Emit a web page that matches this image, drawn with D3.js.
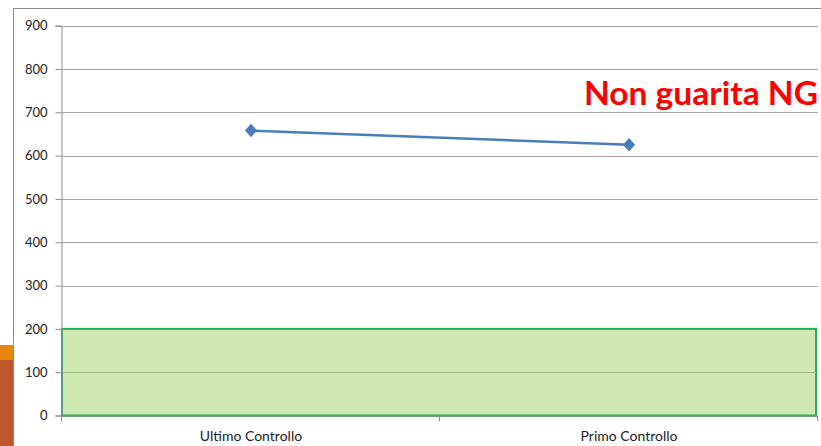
<!DOCTYPE html>
<html>
<head>
<meta charset="utf-8">
<script src="https://cdn.jsdelivr.net/npm/d3@7"></script>
<style>
  body { margin: 0; background: #fff; }
  svg { display: block; }
</style>
</head>
<body>
<script>
const categories = ['Ultimo Controllo', 'Primo Controllo'];
const values = [658, 625];
const yTicks = [0, 100, 200, 300, 400, 500, 600, 700, 800, 900];
const bandRange = [0, 200];
const title = 'Non guarita NG';

const width = 821;
const height = 446;
const plot = { left: 62, right: 818, top: 25.7, bottom: 415.5 };

const svg = d3.select('body')
  .append('svg')
  .attr('width', width)
  .attr('height', height);

// slide decoration on the left edge
svg.append('rect').attr('x', 0).attr('y', 345).attr('width', 13).attr('height', 15).attr('fill', '#e8850f');
svg.append('rect').attr('x', 0).attr('y', 360).attr('width', 13).attr('height', 90).attr('fill', '#c0562b');

// chart frame
svg.append('rect')
  .attr('x', 13.5).attr('y', 8.5)
  .attr('width', 850).attr('height', 480)
  .attr('fill', '#fff')
  .attr('stroke', '#8c8c8c');

const xScale = d3.scaleBand()
  .domain(categories)
  .range([plot.left, plot.right]);

const yScale = d3.scaleLinear()
  .domain([0, 900])
  .range([plot.bottom, plot.top]);

// gridlines
svg.append('g')
  .selectAll('line')
  .data(yTicks)
  .enter()
  .append('line')
  .attr('x1', plot.left)
  .attr('x2', plot.right)
  .attr('y1', (d) => Math.round(yScale(d)) + 0.5)
  .attr('y2', (d) => Math.round(yScale(d)) + 0.5)
  .attr('stroke', '#a6a6a6')
  .attr('stroke-width', 1);

// target band
svg.append('rect')
  .attr('x', plot.left)
  .attr('y', yScale(bandRange[1]))
  .attr('width', plot.right - plot.left - 2)
  .attr('height', yScale(bandRange[0]) - yScale(bandRange[1]))
  .attr('fill', '#d0e9b3')
  .attr('stroke', '#1fb155')
  .attr('stroke-width', 2);

// band gridline shows through
svg.append('line')
  .attr('x1', plot.left).attr('x2', plot.right - 2)
  .attr('y1', Math.round(yScale(100)) + 0.5).attr('y2', Math.round(yScale(100)) + 0.5)
  .attr('stroke', '#9cb98a');

// y axis
const yAxis = d3.axisLeft(yScale).tickValues(yTicks).tickSize(6).tickPadding(8);
const yG = svg.append('g')
  .attr('transform', 'translate(' + (plot.left - 0.5) + ',0)')
  .call(yAxis);
yG.select('.domain').attr('stroke', '#8c8c8c');
yG.selectAll('.tick line').attr('stroke', '#8c8c8c');
yG.selectAll('text')
  .attr('font-family', 'Lato, "Open Sans", sans-serif')
  .attr('font-size', 13)
  .attr('fill', '#222');

// x axis with ticks between categories
const xG = svg.append('g')
  .attr('transform', 'translate(0,' + (plot.bottom + 0.5) + ')');
xG.append('line')
  .attr('x1', plot.left).attr('x2', plot.right)
  .attr('stroke', '#8c8c8c');
const boundaries = [plot.left].concat(categories.map((c) => xScale(c) + xScale.bandwidth()));
xG.selectAll('.xtick')
  .data(boundaries)
  .enter()
  .append('line')
  .attr('x1', (d) => Math.round(d) - 0.5)
  .attr('x2', (d) => Math.round(d) - 0.5)
  .attr('y1', 0).attr('y2', 5)
  .attr('stroke', '#8c8c8c');
xG.selectAll('.xlabel')
  .data(categories)
  .enter()
  .append('text')
  .attr('x', (d) => xScale(d) + xScale.bandwidth() / 2)
  .attr('y', 25)
  .attr('text-anchor', 'middle')
  .attr('font-family', 'Lato, "Open Sans", sans-serif')
  .attr('font-size', 14)
  .attr('fill', '#222')
  .text((d) => d);

// series line
const points = categories.map((c, i) => [xScale(c) + xScale.bandwidth() / 2, yScale(values[i])]);
svg.append('path')
  .attr('d', d3.line()(points))
  .attr('fill', 'none')
  .attr('stroke', '#4a7ebb')
  .attr('stroke-width', 2.5);

svg.selectAll('.marker')
  .data(points)
  .enter()
  .append('path')
  .attr('transform', (d) => 'translate(' + d[0] + ',' + d[1] + ') scale(1,1.1)')
  .attr('d', d3.symbol().type(d3.symbolDiamond2).size(95))
  .attr('fill', '#4a7ebb');

// title
svg.append('text')
  .attr('x', 818)
  .attr('y', 105)
  .attr('text-anchor', 'end')
  .attr('font-family', 'Lato, "Open Sans", sans-serif')
  .attr('font-weight', 'bold')
  .attr('font-size', 33)
  .attr('fill', '#ff0000')
  .attr('textLength', 234)
  .attr('lengthAdjust', 'spacingAndGlyphs')
  .text(title);
</script>
</body>
</html>
